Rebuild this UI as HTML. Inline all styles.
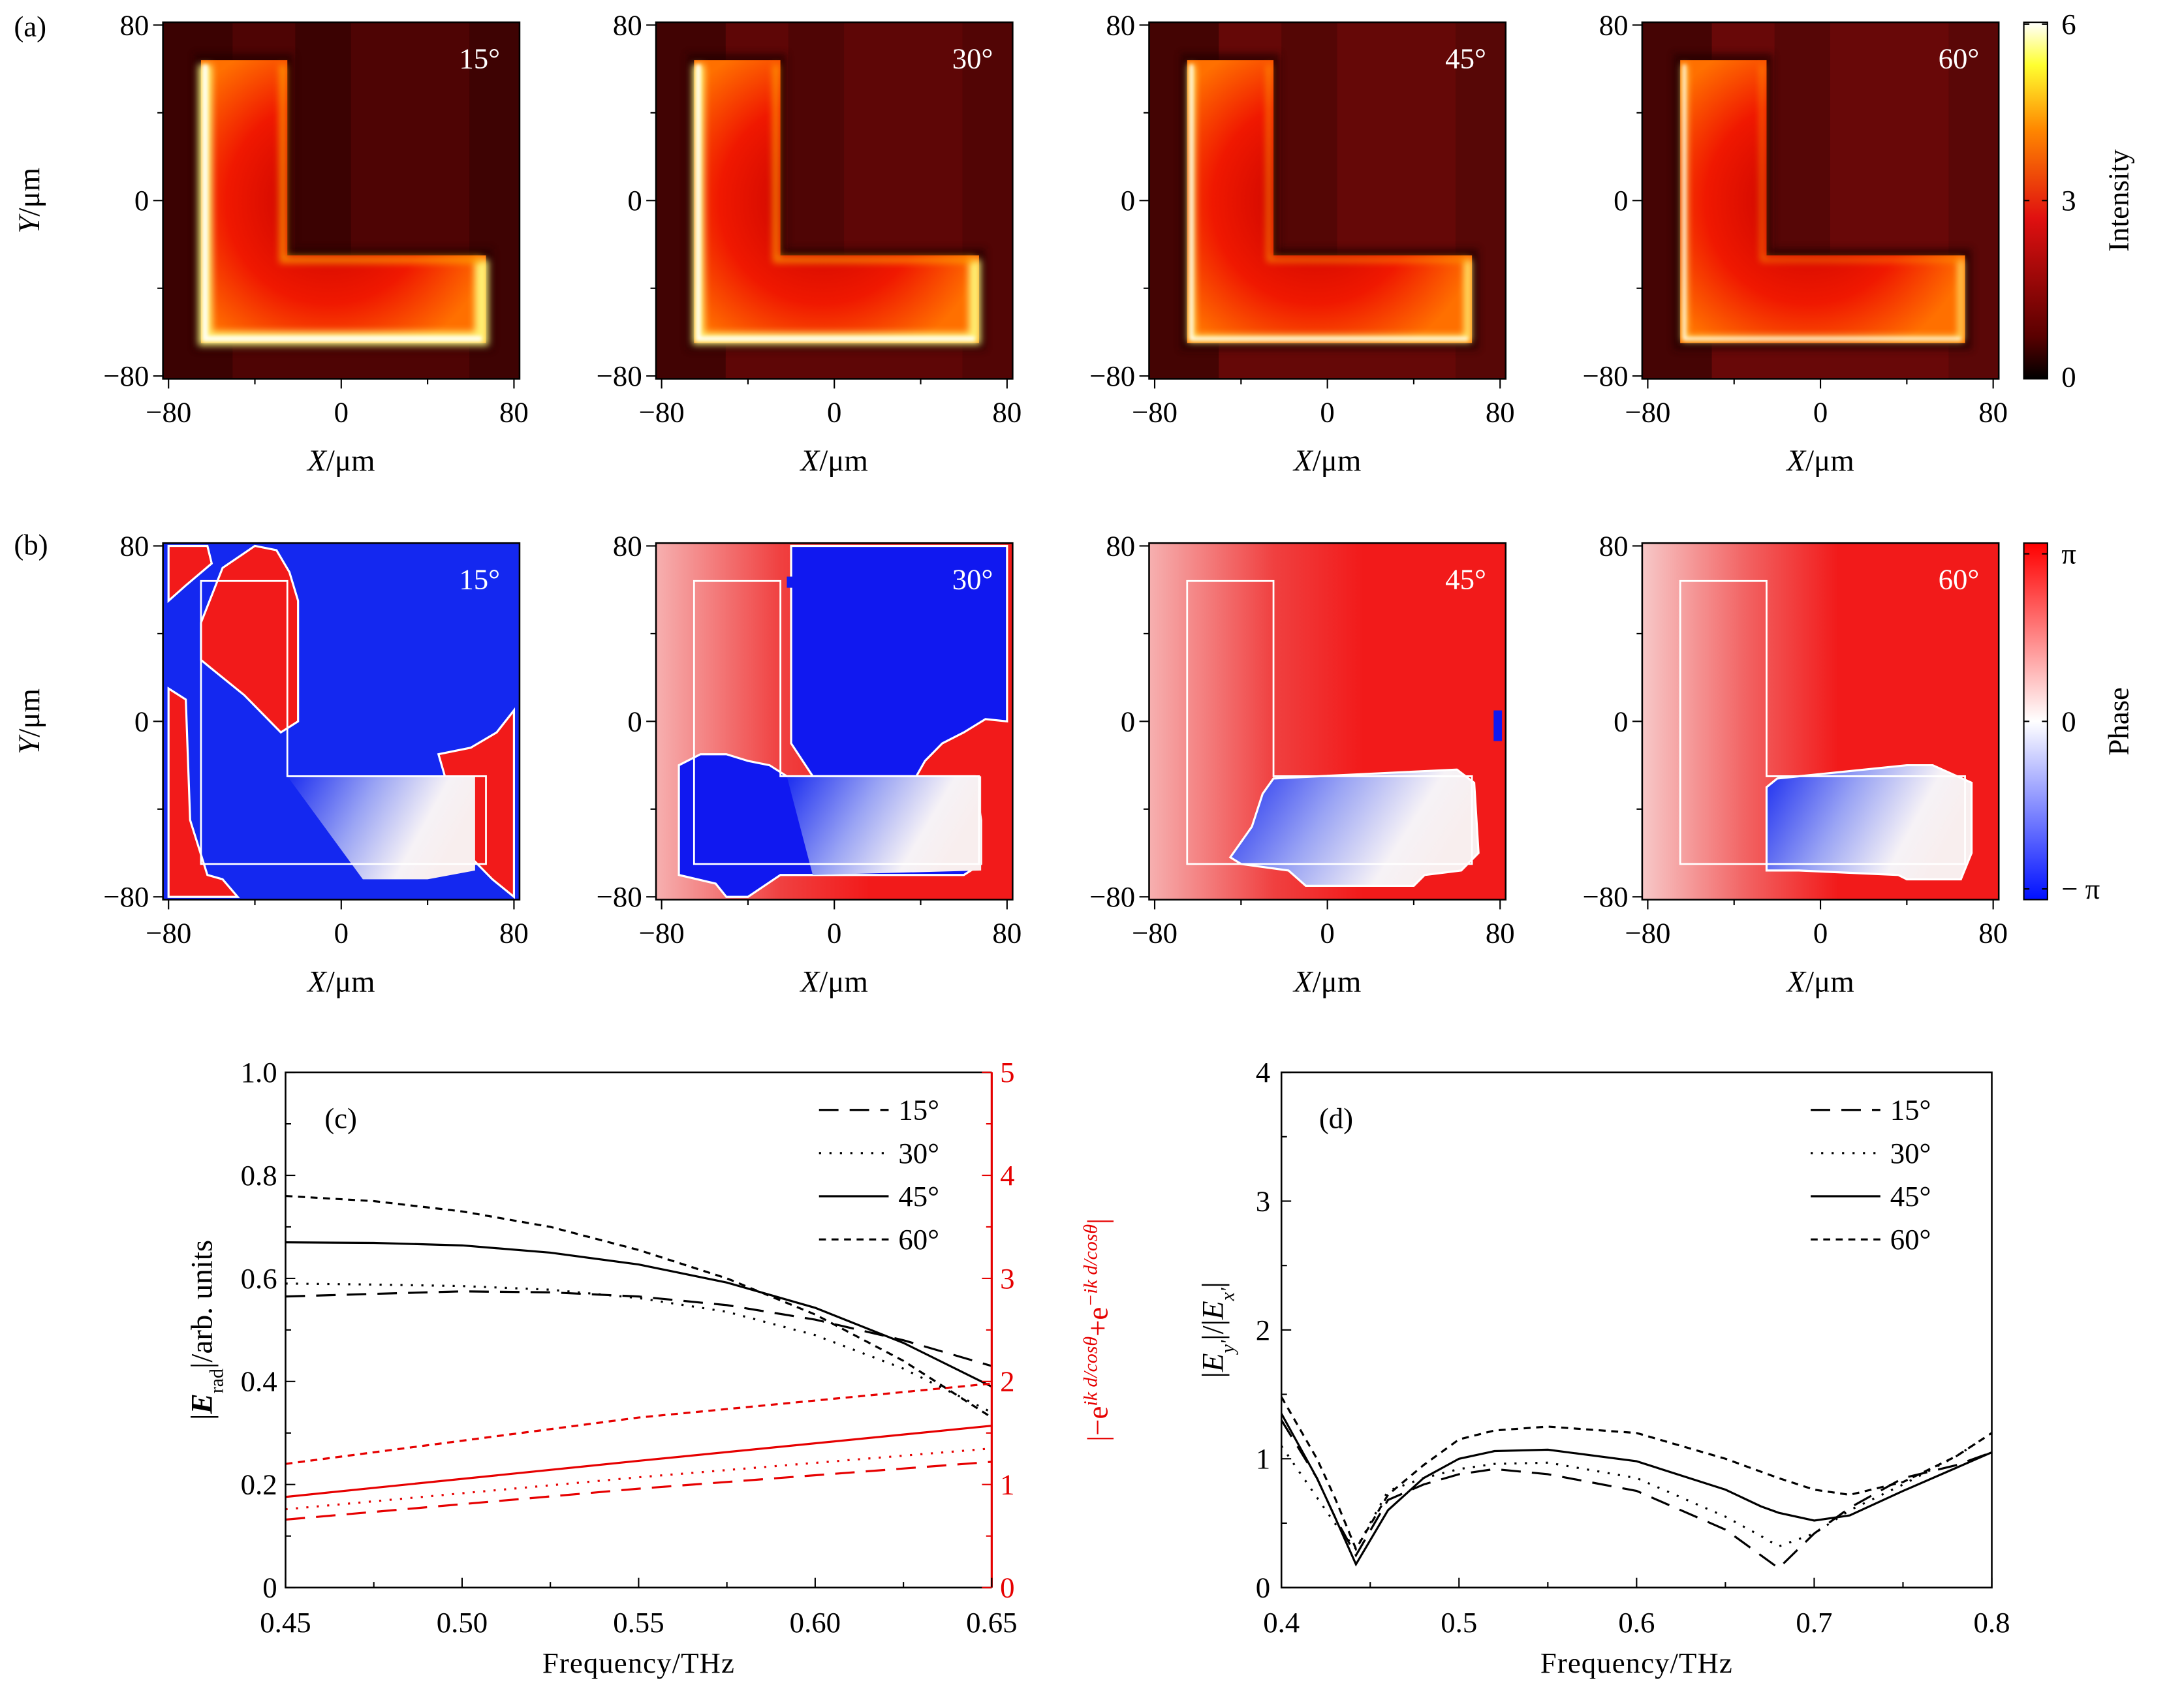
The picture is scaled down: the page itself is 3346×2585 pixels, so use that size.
<!DOCTYPE html>
<html><head><meta charset="utf-8"><style>
html,body{margin:0;padding:0;background:#fff}
svg{display:block;font-family:"Liberation Serif","DejaVu Serif",serif}
</style></head><body>
<svg id="fig" xmlns="http://www.w3.org/2000/svg" width="3346" height="2585" viewBox="0 0 1568 1211.4" preserveAspectRatio="none">
<defs>
<linearGradient id="cbI" x1="0" y1="1" x2="0" y2="0">
<stop offset="0" stop-color="#000"/><stop offset="0.12" stop-color="#5a0000"/><stop offset="0.45" stop-color="#e01010"/><stop offset="0.7" stop-color="#ff8800"/><stop offset="0.88" stop-color="#ffff30"/><stop offset="1" stop-color="#fff"/></linearGradient>
<linearGradient id="cbP" x1="0" y1="1" x2="0" y2="0">
<stop offset="0" stop-color="#0010ff"/><stop offset="0.5" stop-color="#fff"/><stop offset="1" stop-color="#ff0000"/></linearGradient>
<linearGradient id="bw" x1="0" y1="0" x2="1" y2="0.3">
<stop offset="0" stop-color="#1a2cf0"/><stop offset="0.45" stop-color="#9aa4f4"/><stop offset="0.8" stop-color="#f6f2f6"/><stop offset="1" stop-color="#f8eeee"/></linearGradient>
<linearGradient id="pinkL" x1="0" y1="0" x2="1" y2="0">
<stop offset="0" stop-color="#f6b0b0"/><stop offset="0.35" stop-color="#f04040"/><stop offset="0.6" stop-color="#f21a1a"/><stop offset="1" stop-color="#f21a1a"/></linearGradient>
<linearGradient id="pinkL2" x1="0" y1="0" x2="1" y2="0">
<stop offset="0" stop-color="#f7c8c8"/><stop offset="0.3" stop-color="#f26060"/><stop offset="0.55" stop-color="#f21a1a"/><stop offset="1" stop-color="#f21a1a"/></linearGradient>
<radialGradient id="lfill" cx="0.45" cy="0.5" r="0.6">
<stop offset="0" stop-color="#c00000"/><stop offset="0.6" stop-color="#f01800"/><stop offset="1" stop-color="#ff7000"/></radialGradient>
<filter id="blur2"><feGaussianBlur stdDeviation="2.5"/></filter>
<filter id="blur1"><feGaussianBlur stdDeviation="1.2"/></filter>
</defs>
</svg>
<script>
const NS="http://www.w3.org/2000/svg";
const svg=document.getElementById('fig');
function el(tag,attrs,parent,text){const e=document.createElementNS(NS,tag);for(const k in attrs)e.setAttribute(k,attrs[k]);if(text!==undefined)e.textContent=text;(parent||svg).appendChild(e);return e;}

const angles=['15°','30°','45°','60°'];
const panelX=[117,471,825,1179];
const rowY=[16,390];
const PW=256, PH=256;
const bgIntensity=['#4e0404','#5e0606','#650807','#680808'];

function mapFns(px,py){
  const sx=v=>px+4+(v+80)/160*(PW-8);
  const sy=v=>py+2+(80-v)/160*(PH-4);
  return {sx,sy};
}
function poly(pts,f){return pts.map(p=>f.sx(p[0]).toFixed(1)+','+f.sy(p[1]).toFixed(1)).join(' ');}
const Lshape=[[-65,64],[-25,64],[-25,-25],[67,-25],[67,-65],[-65,-65]];

function axes(g,px,py,row){
  const f=mapFns(px,py);
  el('rect',{x:px,y:py,width:PW,height:PH,fill:'none',stroke:'#000','stroke-width':1.2},g);
  [-80,-40,0,40,80].forEach(v=>{
    const major=v%80===0;
    el('line',{x1:f.sx(v),y1:py+PH,x2:f.sx(v),y2:py+PH+(major?7:4),stroke:'#000','stroke-width':1},g);
    el('line',{x1:px,y1:f.sy(v),x2:px-(major?7:4),y2:f.sy(v),stroke:'#000','stroke-width':1},g);
  });
  [[-80,'−80'],[0,'0'],[80,'80']].forEach(([v,t])=>{
    const tx=el('text',{x:f.sx(v),y:py+PH+31,'font-size':21,'text-anchor':'middle'},g,t);
    
    
    const ty=el('text',{x:px-10,y:f.sy(v)+7,'font-size':21,'text-anchor':'end'},g,t);
    
    
  });
  const xl=el('text',{x:px+PW/2,y:py+PH+66,'font-size':22,'text-anchor':'middle'},g);
  
  
  el('tspan',{'font-style':'italic'},xl,'X');
  el('tspan',{},xl,'/μm');
}

for(let i=0;i<4;i++){
  const px=panelX[i], py=rowY[0];
  const g=el('g',{});
  
  
  const f=mapFns(px,py);
  el('rect',{x:px,y:py,width:PW,height:PH,fill:bgIntensity[i]},g);
  el('rect',{x:px,y:py,width:50,height:PH,fill:'#2e0202',opacity:0.6},g);
  el('rect',{x:px+95,y:py,width:40,height:180,fill:'#2e0202',opacity:i==0?0.6:0.3},g);
  el('rect',{x:px+220,y:py,width:36,height:PH,fill:'#2e0202',opacity:i==0?0.5:0.25},g);
  el('polygon',{points:poly([[-68,67],[-22,67],[-22,-22],[70,-22],[70,-68],[-68,-68]],f),fill:'#200000',opacity:0.7,filter:'url(#blur2)'},g);
  el('polygon',{points:poly(Lshape,f),fill:'url(#lfill)'},g);
  const bright=[1,0.85,0.5,0.35][i];
  el('polyline',{points:poly([[-63,62],[-63,-63],[65,-63],[65,-27]],f),fill:'none',stroke:'#ffff80','stroke-width':10*bright,opacity:0.9,filter:'url(#blur2)'},g);
  el('polyline',{points:poly([[-63,62],[-63,-63],[65,-63]],f),fill:'none',stroke:'#fff','stroke-width':3*bright+0.8,opacity:0.9,filter:'url(#blur1)'},g);
  el('polyline',{points:poly([[-27,62],[-27,-27],[65,-27]],f),fill:'none',stroke:'#ffb000','stroke-width':4*bright+1,opacity:0.7,filter:'url(#blur2)'},g);
  el('polyline',{points:poly([[-63,62],[-27,62]],f),fill:'none',stroke:'#ffd000','stroke-width':5,opacity:0.8,filter:'url(#blur1)'},g);
  const lab=el('text',{x:px+PW-14,y:py+33,'font-size':21,fill:'#fff','text-anchor':'end'},g,angles[i]);
  
  
  axes(g,px,py,0);
}

const phaseRed0=[
  [[-65,45],[-55,70],[-40,80],[-30,78],[-24,68],[-20,55],[-20,0],[-28,-5],[-45,12],[-60,24],[-65,28]],
  [[-80,80],[-62,80],[-60,72],[-72,62],[-80,55]],
  [[-80,15],[-72,10],[-70,-45],[-62,-70],[-55,-72],[-48,-80],[-80,-80]],
  [[45,-15],[60,-12],[72,-5],[80,5],[80,-80],[70,-72],[60,-62],[48,-25]]
];
for(let i=0;i<4;i++){
  const px=panelX[i], py=rowY[1];
  const g=el('g',{});
  
  
  const f=mapFns(px,py);
  const clip=el('clipPath',{id:'cp'+i},g);
  el('rect',{x:px,y:py,width:PW,height:PH},clip);
  const c=el('g',{'clip-path':'url(#cp'+i+')'},g);
  if(i===0){
    el('rect',{x:px,y:py,width:PW,height:PH,fill:'#1428f0'},c);
    phaseRed0.forEach(p=>el('polygon',{points:poly(p,f),fill:'#f21a1a',stroke:'#fff','stroke-width':1.5},c));
    el('polygon',{points:poly([[-25,-25],[45,-25],[62,-25],[62,-68],[40,-72],[10,-72]],f),fill:'url(#bw)'},c);
  } else if(i===1){
    el('rect',{x:px,y:py,width:PW,height:PH,fill:'url(#pinkL)'},c);
    el('polygon',{points:poly([[-20,80],[80,80],[80,0],[70,1],[60,-5],[50,-10],[42,-18],[38,-25],[-10,-25],[-20,-10]],f),fill:'#1018f0',stroke:'#fff','stroke-width':1.5},c);
    el('polygon',{points:poly([[-72,-20],[-62,-15],[-50,-15],[-40,-18],[-30,-20],[-22,-25],[65,-25],[68,-45],[68,-65],[60,-70],[-25,-70],[-40,-80],[-50,-80],[-55,-74],[-72,-70]],f),fill:'#1018f0',stroke:'#fff','stroke-width':1.5},c);
    el('polygon',{points:poly([[-22,-25],[68,-25],[68,-68],[-10,-70]],f),fill:'url(#bw)'},c);
    el('rect',{x:f.sx(-22),y:f.sy(66),width:5,height:8,fill:'#1018f0'},c);
  } else {
    el('rect',{x:px,y:py,width:PW,height:PH,fill:i===2?'url(#pinkL)':'url(#pinkL2)'},c);
    const bl = i===2
      ? [[-45,-62],[-35,-48],[-30,-33],[-25,-26],[60,-22],[68,-28],[70,-60],[62,-68],[45,-70],[40,-75],[-10,-75],[-18,-68],[-40,-65]]
      : [[-25,-68],[-25,-30],[-20,-26],[40,-20],[52,-20],[70,-28],[70,-60],[65,-72],[40,-72],[36,-70],[-10,-68]];
    el('polygon',{points:poly(bl,f),fill:'url(#bw)',stroke:'#fff','stroke-width':1.5},c);
    if(i===2) el('rect',{x:f.sx(77),y:f.sy(5),width:6,height:22,fill:'#1018f0'},c);
  }
  el('polygon',{points:poly(Lshape,f),fill:'none',stroke:'#fff','stroke-width':1.3},c);
  const lab=el('text',{x:px+PW-14,y:py+33,'font-size':21,fill:'#fff','text-anchor':'end'},g,angles[i]);
  
  
  axes(g,px,py,1);
}

[[144,'yl-a'],[518,'yl-b']].forEach(([y,n])=>{
  const t=el('text',{x:0,y:0,'font-size':22,'text-anchor':'middle',transform:`translate(28,${y}) rotate(-90)`});
  
  
  el('tspan',{'font-style':'italic'},t,'Y');el('tspan',{},t,'/μm');
});
[['(a)',26],['(b)',398]].forEach(([s,y])=>{
  const t=el('text',{x:10,y:y,'font-size':21},svg,s);
  
  
});

function colorbar(y,fill,ticks,title,name){
  const g=el('g',{});
  
  
  el('rect',{x:1453,y:y,width:17,height:256,fill:fill,stroke:'#000','stroke-width':1},g);
  ticks.forEach(([fr,t])=>{
    const yy=y+256-fr*256;
    el('line',{x1:1470,y1:yy,x2:1466,y2:yy,stroke:'#000'},g);
    el('line',{x1:1453,y1:yy,x2:1457,y2:yy,stroke:'#000'},g);
    el('text',{x:1480,y:yy+7,'font-size':21},g,t);
  });
  el('text',{x:0,y:0,'font-size':21,'text-anchor':'middle',transform:`translate(1528,${y+128}) rotate(-90)`},g,title);
}
colorbar(16,'url(#cbI)',[[0.005,'0'],[0.5,'3'],[0.995,'6']],'Intensity','intensity-colorbar');
colorbar(390,'url(#cbP)',[[0.03,'− π'],[0.5,'0'],[0.97,'π']],'Phase','phase-colorbar');

// ---- chart c ----
const cFreq=[0.45,0.475,0.5,0.525,0.55,0.575,0.6,0.625,0.65];
const c15=[0.565,0.57,0.575,0.573,0.565,0.548,0.52,0.48,0.43];
const c30=[0.59,0.588,0.585,0.578,0.562,0.535,0.49,0.425,0.34];
const c45=[0.67,0.669,0.664,0.65,0.627,0.592,0.543,0.475,0.39];
const c60=[0.76,0.75,0.73,0.7,0.655,0.6,0.53,0.44,0.33];
const cRedFreq=[0.45,0.55,0.65];
const r15=[0.66,0.96,1.22];
const r30=[0.76,1.07,1.35];
const r45=[0.88,1.23,1.57];
const r60=[1.2,1.65,1.98];
const cXTicks=[0.45,0.50,0.55,0.60,0.65];
const cYTicks=[0,0.2,0.4,0.6,0.8,1.0];
const cRTicks=[0,1,2,3,4,5];

const C={x0:205,x1:712,y0:1140,y1:770};
const cx=v=>C.x0+(v-0.45)/0.2*(C.x1-C.x0);
const cy=v=>C.y0-v*(C.y0-C.y1);
const cyr=v=>C.y0-v/5*(C.y0-C.y1);
const dashes={'15':'14,8','30':'1.5,6','45':'none','60':'5,4'};

function seriesPath(xs,ys,fx,fy){return xs.map((x,i)=>(i?'L':'M')+fx(x).toFixed(1)+','+fy(ys[i]).toFixed(1)).join(' ');}

const gc=el('g',{});


[['15',c15],['30',c30],['45',c45],['60',c60]].forEach(([k,d])=>{
  const p=el('path',{d:seriesPath(cFreq,d,cx,cy),fill:'none',stroke:'#000','stroke-width':1.5,'stroke-dasharray':dashes[k]},gc);
  
  
});
[['15',r15],['30',r30],['45',r45],['60',r60]].forEach(([k,d])=>{
  const p=el('path',{d:seriesPath(cRedFreq,d,cx,cyr),fill:'none',stroke:'#e60000','stroke-width':1.5,'stroke-dasharray':dashes[k]},gc);
  
  
});
el('polyline',{points:`${C.x1},${C.y1} ${C.x0},${C.y1} ${C.x0},${C.y0} ${C.x1},${C.y0}`,fill:'none',stroke:'#000','stroke-width':1.2},gc);
el('line',{x1:C.x1,y1:C.y1,x2:C.x1,y2:C.y0,stroke:'#e60000','stroke-width':1.5},gc);
cXTicks.forEach(v=>{
  el('line',{x1:cx(v),y1:C.y0,x2:cx(v),y2:C.y0-7,stroke:'#000'},gc);
  const t=el('text',{x:cx(v),y:C.y0+32,'font-size':21,'text-anchor':'middle'},gc,v.toFixed(2));
  
  
});
for(let v=0.475;v<0.65;v+=0.05) el('line',{x1:cx(v),y1:C.y0,x2:cx(v),y2:C.y0-4,stroke:'#000'},gc);
cYTicks.forEach(v=>{
  el('line',{x1:C.x0,y1:cy(v),x2:C.x0+7,y2:cy(v),stroke:'#000'},gc);
  if(v<0.95) el('line',{x1:C.x0,y1:cy(v+0.1),x2:C.x0+4,y2:cy(v+0.1),stroke:'#000'},gc);
  const t=el('text',{x:C.x0-6,y:cy(v)+7,'font-size':21,'text-anchor':'end'},gc,v===0?'0':v.toFixed(1));
  
  
});
cRTicks.forEach(v=>{
  el('line',{x1:C.x1,y1:cyr(v),x2:C.x1-7,y2:cyr(v),stroke:'#e60000'},gc);
  if(v<5) el('line',{x1:C.x1,y1:cyr(v+0.5),x2:C.x1-4,y2:cyr(v+0.5),stroke:'#e60000'},gc);
  const t=el('text',{x:C.x1+6,y:cyr(v)+7,'font-size':21,fill:'#e60000'},gc,String(v));
  
  
});
el('text',{x:233,y:810,'font-size':21},gc,'(c)');
const xlc=el('text',{x:(C.x0+C.x1)/2,y:1201,'font-size':21,'text-anchor':'middle','letter-spacing':'0.5'},gc,'Frequency/THz');


const ylc=el('text',{x:0,y:0,'font-size':22,'text-anchor':'middle',transform:`translate(152,955) rotate(-90)`},gc);


el('tspan',{},ylc,'|');el('tspan',{'font-weight':'bold','font-style':'italic'},ylc,'E');
el('tspan',{'font-size':14,'baseline-shift':'sub'},ylc,'rad');el('tspan',{},ylc,'|/arb. units');
const yrc=el('text',{x:0,y:0,'font-size':21,fill:'#e60000','text-anchor':'middle',transform:`translate(795,955) rotate(-90)`},gc);


el('tspan',{},yrc,'|−e');el('tspan',{'font-size':14,'baseline-shift':'super','font-style':'italic'},yrc,'ik d/cosθ');
el('tspan',{},yrc,'+e');el('tspan',{'font-size':14,'baseline-shift':'super','font-style':'italic'},yrc,'−ik d/cosθ');el('tspan',{},yrc,'|');

function legend(g,x,y0){
  ['15','30','45','60'].forEach((k,i)=>{
    const y=y0+i*31;
    const lg=el('g',{},g);
    
    
    el('line',{x1:x,y1:y,x2:x+50,y2:y,stroke:'#000','stroke-width':1.5,'stroke-dasharray':dashes[k]},lg);
    el('text',{x:x+57,y:y+7,'font-size':21},lg,k+'°');
  });
}
legend(gc,588,797);

// ---- chart d ----
const dFreq=[0.4,0.42,0.43,0.442,0.46,0.48,0.5,0.52,0.55,0.6,0.65,0.67,0.68,0.7,0.72,0.75,0.78,0.8];
const d15=[1.3,0.85,0.55,0.25,0.68,0.8,0.88,0.92,0.88,0.75,0.45,0.25,0.15,0.42,0.62,0.85,0.95,1.05];
const d30=[1.1,0.7,0.5,0.3,0.75,0.85,0.92,0.96,0.97,0.85,0.55,0.4,0.32,0.42,0.6,0.8,1.02,1.2];
const d45=[1.35,0.85,0.55,0.18,0.6,0.85,1.0,1.06,1.07,0.98,0.76,0.63,0.58,0.52,0.56,0.75,0.93,1.05];
const d60=[1.48,1.0,0.7,0.3,0.72,0.95,1.15,1.22,1.25,1.2,1.0,0.9,0.85,0.76,0.72,0.82,1.02,1.2];
const dXTicks=[0.4,0.5,0.6,0.7,0.8];
const dYTicks=[0,1,2,3,4];
const D={x0:920,x1:1430,y0:1140,y1:770};
const dx=v=>D.x0+(v-0.4)/0.4*(D.x1-D.x0);
const dy=v=>D.y0-v/4*(D.y0-D.y1);
const gd=el('g',{});


const cpd=el('clipPath',{id:'cpd'},gd);
el('rect',{x:D.x0,y:D.y1,width:D.x1-D.x0,height:D.y0-D.y1},cpd);
[['15',d15],['30',d30],['45',d45],['60',d60]].forEach(([k,d])=>{
  const p=el('path',{d:seriesPath(dFreq,d,dx,dy),fill:'none',stroke:'#000','stroke-width':1.5,'stroke-dasharray':dashes[k],'clip-path':'url(#cpd)'},gd);
  
  
});
el('rect',{x:D.x0,y:D.y1,width:D.x1-D.x0,height:D.y0-D.y1,fill:'none',stroke:'#000','stroke-width':1.2},gd);
dXTicks.forEach(v=>{
  el('line',{x1:dx(v),y1:D.y0,x2:dx(v),y2:D.y0-7,stroke:'#000'},gd);
  if(v<0.75) el('line',{x1:dx(v+0.05),y1:D.y0,x2:dx(v+0.05),y2:D.y0-4,stroke:'#000'},gd);
  const t=el('text',{x:dx(v),y:D.y0+32,'font-size':21,'text-anchor':'middle'},gd,v.toFixed(1));
  
  
});
dYTicks.forEach(v=>{
  el('line',{x1:D.x0,y1:dy(v),x2:D.x0+7,y2:dy(v),stroke:'#000'},gd);
  if(v<4) el('line',{x1:D.x0,y1:dy(v+0.5),x2:D.x0+4,y2:dy(v+0.5),stroke:'#000'},gd);
  const t=el('text',{x:D.x0-8,y:dy(v)+7,'font-size':21,'text-anchor':'end'},gd,String(v));
  
  
});
el('text',{x:947,y:810,'font-size':21},gd,'(d)');
legend(gd,1300,797);
const xld=el('text',{x:(D.x0+D.x1)/2,y:1201,'font-size':21,'text-anchor':'middle','letter-spacing':'0.5'},gd,'Frequency/THz');


const yld=el('text',{x:0,y:0,'font-size':22,'text-anchor':'middle',transform:`translate(878,955) rotate(-90)`},gd);


el('tspan',{},yld,'|');el('tspan',{'font-style':'italic'},yld,'E');el('tspan',{'font-size':14,'baseline-shift':'sub','font-style':'italic'},yld,"y'");
el('tspan',{},yld,'|/|');el('tspan',{'font-style':'italic'},yld,'E');el('tspan',{'font-size':14,'baseline-shift':'sub','font-style':'italic'},yld,"x'");el('tspan',{},yld,'|');
</script>
</body></html>
